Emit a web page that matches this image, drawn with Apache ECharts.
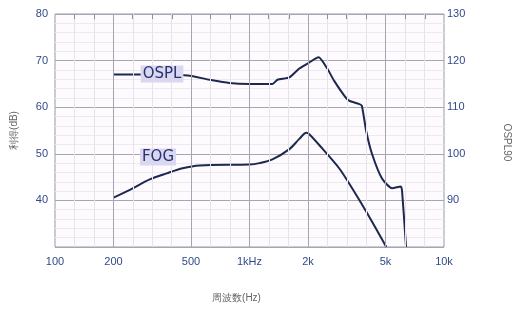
<!DOCTYPE html>
<html>
<head>
<meta charset="utf-8">
<script src="https://cdn.jsdelivr.net/npm/echarts@6/dist/echarts.min.js"></script>
<style>
  html, body { margin: 0; padding: 0; background: #fff; }
  #chart { width: 520px; height: 309px; }
</style>
</head>
<body>
<div id="chart"></div>
<script>
// frequency axis (log scale, drawn as log10 values)
const freqLabels = [100, 200, 500, 1000, 2000, 5000, 10000];
const freqLabelText = ['100', '200', '500', '1kHz', '2k', '5k', '10k'];
const majorFreqs = [200, 500, 1000, 2000, 5000];
const thirdOctaveFreqs = [125, 160, 250, 315, 400, 630, 800, 1250, 1600, 2500, 3150, 4000, 6300, 8000];

// OSPL90 curve (right axis, dB SPL)
const osplFreq = [200, 273, 481, 623, 788, 1000, 1312, 1392, 1604, 1803, 2030, 2265, 2510, 2720, 3070, 3250, 3650, 3780, 3980, 4270, 4800, 5410, 6000, 6090, 6380];
const osplValue = [117.0, 117.0, 116.8, 115.9, 115.2, 115.0, 115.0, 115.9, 116.4, 118.3, 119.6, 120.7, 118.3, 115.7, 112.5, 111.4, 110.7, 110.3, 104.9, 99.9, 94.7, 92.6, 93.0, 91.9, 80.0];

// full-on gain curve (left axis, dB)
const fogFreq = [200, 251, 307, 375, 453, 554, 1000, 1125, 1312, 1604, 1803, 1960, 2030, 2360, 2890, 3370, 3980, 5050];
const fogValue = [40.6, 42.6, 44.5, 45.8, 46.9, 47.5, 47.7, 48.0, 48.8, 51.0, 53.2, 54.5, 54.2, 51.2, 46.9, 42.6, 37.6, 30.0];

const lg = (f) => Math.log10(f);
const pairs = (fs, vs) => fs.map((f, i) => [lg(f), vs[i]]);

const chart = echarts.init(document.getElementById('chart'));

const labelColor = '#30498a';
const curveColor = '#1d2850';
const gainMax = 80;

const gridLines = thirdOctaveFreqs.map((f) => ({ xAxis: lg(f), lineStyle: { color: '#e8e2ea', type: 'solid', width: 1 } }))
  .concat(majorFreqs.map((f) => ({ xAxis: lg(f), lineStyle: { color: '#a6a6b2', type: 'solid', width: 1 } })));
// short ticks hanging from the top border
const topTicks = thirdOctaveFreqs.map((f) => [
  { coord: [lg(f), gainMax], lineStyle: { color: '#8e8e9c', type: 'solid', width: 1 } },
  { coord: [lg(f), gainMax - 1.1] }
]);

chart.setOption({
  animation: false,
  grid: {
    left: 55, right: 75, top: 14, bottom: 62,
    show: true,
    borderColor: '#9a9aaa',
    borderWidth: 1,
    backgroundColor: '#fdfbfd'
  },
  xAxis: {
    type: 'value',
    min: 2,
    max: 4,
    axisLine: { show: false },
    axisTick: { show: false },
    splitLine: { show: false },
    axisLabel: {
      customValues: freqLabels.map(lg),
      color: labelColor,
      fontSize: 11,
      margin: 9,
      formatter: (v) => {
        const i = freqLabels.findIndex((f) => Math.abs(lg(f) - v) < 1e-6);
        return i >= 0 ? freqLabelText[i] : '';
      }
    },
    name: '周波数(Hz)',
    nameLocation: 'middle',
    nameGap: 46,
    nameTextStyle: { color: '#666', fontSize: 10, padding: [0, 26, 0, 0] }
  },
  yAxis: [{
    type: 'value',
    min: 30,
    max: gainMax,
    interval: 10,
    axisLine: { show: false },
    axisTick: { show: false },
    axisLabel: { color: labelColor, fontSize: 11, margin: 7, showMinLabel: false },
    splitLine: { lineStyle: { color: '#a6a6b2' } },
    minorTick: { show: false, splitNumber: 5 },
    minorSplitLine: { show: true, lineStyle: { color: '#efe8ee' } },
    name: '利得(dB)',
    nameLocation: 'middle',
    nameGap: 36,
    nameTextStyle: { color: '#666', fontSize: 10 }
  }, {
    type: 'value',
    min: 80,
    max: 130,
    interval: 10,
    position: 'right',
    axisLine: { show: false },
    axisTick: { show: false },
    splitLine: { show: false },
    axisLabel: { color: labelColor, fontSize: 11, margin: 3, showMinLabel: false },
    name: 'OSPL90',
    nameLocation: 'middle',
    nameRotate: -90,
    nameGap: 58,
    nameTextStyle: { color: '#666', fontSize: 10, padding: [0, 0, 0, 24] }
  }],
  series: [{
    // vertical frequency grid and top ticks
    type: 'line',
    data: [],
    z: 1,
    silent: true,
    markLine: {
      silent: true,
      symbol: ['none', 'none'],
      label: { show: false },
      data: gridLines.concat(topTicks)
    }
  }, {
    name: 'FOG',
    type: 'line',
    yAxisIndex: 0,
    data: pairs(fogFreq, fogValue),
    smooth: 0.3,
    showSymbol: false,
    z: 3,
    lineStyle: { color: curveColor, width: 2 }
  }, {
    name: 'OSPL',
    type: 'line',
    yAxisIndex: 1,
    data: pairs(osplFreq, osplValue),
    smooth: 0.2,
    showSymbol: false,
    z: 3,
    lineStyle: { color: curveColor, width: 2 }
  }],
  graphic: [{
    type: 'text',
    x: 162, y: 74, z: 10,
    style: {
      text: 'OSPL', fill: '#27316e', font: '15px "DejaVu Sans"',
      align: 'center', verticalAlign: 'middle',
      backgroundColor: '#d9d8f0', padding: [1, 2]
    }
  }, {
    type: 'text',
    x: 158, y: 157, z: 10,
    style: {
      text: 'FOG', fill: '#27316e', font: '15px "DejaVu Sans"',
      align: 'center', verticalAlign: 'middle',
      backgroundColor: '#d9d8f0', padding: [1, 2]
    }
  }]
});
</script>
</body>
</html>
